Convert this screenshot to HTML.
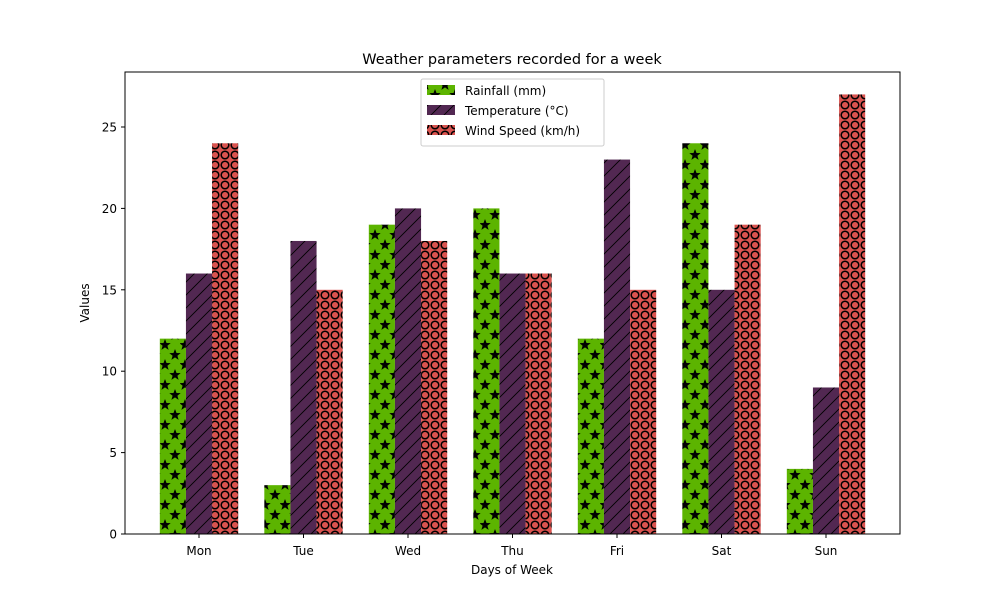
<!DOCTYPE html>
<html><head><meta charset="utf-8"><style>
body{margin:0;background:#fff;}
text{font-family:"DejaVu Sans","Liberation Sans",sans-serif;}
</style></head><body>
<svg id="chart" width="1000" height="600" viewBox="0 0 1000 600" xmlns="http://www.w3.org/2000/svg">
<defs>
<polygon id="star" points="0,-6 1.5,-2 5.7,-1.9 2.4,0.7 3.6,4.9 0,2.4 -3.6,4.9 -2.4,0.7 -5.7,-1.9 -1.5,-2" fill="#000"/>
<pattern id="pStar" patternUnits="userSpaceOnUse" width="20" height="20" x="160" y="0">
<rect width="20" height="20" fill="#5cb400"/>
<use href="#star" x="5" y="5"/>
<use href="#star" x="15" y="15"/>
<use href="#star" x="-5" y="15"/>
<use href="#star" x="25" y="15"/>
<use href="#star" x="15" y="-5"/>
<use href="#star" x="5" y="25"/>
</pattern>
<pattern id="pHatch" patternUnits="userSpaceOnUse" width="13" height="13">
<rect width="13" height="13" fill="#522852"/>
<path d="M0,13 L13,0 M-6.5,6.5 L6.5,-6.5 M6.5,19.5 L19.5,6.5" stroke="#000" stroke-width="0.9"/>
</pattern>
<pattern id="pCirc" patternUnits="userSpaceOnUse" width="10" height="10">
<rect width="10" height="10" fill="#d9534f"/>
<circle cx="5" cy="5" r="3.8" fill="none" stroke="#000" stroke-width="1.5"/>
</pattern>
</defs>
<text x="512" y="64" text-anchor="middle" font-size="14.5">Weather parameters recorded for a week</text>
<g id="bars"></g>
<g id="axes"></g>
<rect x="125" y="72" width="775" height="462" fill="none" stroke="#000" stroke-width="1"/>
<text x="512" y="574" text-anchor="middle" font-size="12">Days of Week</text>
<text transform="translate(89,303) rotate(-90)" text-anchor="middle" font-size="12">Values</text>
<g>
<rect x="421" y="79" width="183" height="67" fill="#fff" fill-opacity="0.8" stroke="#ccc" rx="2"/>
<g><rect x="427" y="85" width="28" height="10" fill="url(#pStar)"/><text x="465" y="95" font-size="12">Rainfall (mm)</text></g>
<g><rect x="427" y="105" width="28" height="10" fill="url(#pHatch)"/><text x="465" y="115" font-size="12">Temperature (°C)</text></g>
<g><rect x="427" y="125" width="28" height="10" fill="url(#pCirc)"/><text x="465" y="135" font-size="12">Wind Speed (km/h)</text></g>
</g>
</svg>
<script>
const days=["Mon","Tue","Wed","Thu","Fri","Sat","Sun"];
const rainfall=[12,3,19,20,12,24,4];
const temperature=[16,18,20,16,23,15,9];
const windSpeed=[24,15,18,16,15,19,27];
const yTicks=[0,5,10,15,20,25];
const NS="http://www.w3.org/2000/svg";
const x0=199,xu=104.5,yb=534,yu=16.28,bw=0.25;
function xs(v){return x0+v*xu;}
function ys(v){return yb-v*yu;}
const bars=document.getElementById('bars'),axes=document.getElementById('axes');
const series=[[rainfall,'url(#pStar)','rainfall'],[temperature,'url(#pHatch)','temperature'],[windSpeed,'url(#pCirc)','wind']];
series.forEach((s,si)=>{s[0].forEach((v,i)=>{
const r=document.createElementNS(NS,'rect');
const c=i+(si-1)*bw;
r.setAttribute('x',xs(c-bw/2));r.setAttribute('width',bw*xu);
r.setAttribute('y',ys(v));r.setAttribute('height',ys(0)-ys(v));
r.setAttribute('fill',s[1]);


bars.appendChild(r);});});
days.forEach((d,i)=>{
const l=document.createElementNS(NS,'line');
l.setAttribute('x1',xs(i));l.setAttribute('x2',xs(i));l.setAttribute('y1',534);l.setAttribute('y2',538);l.setAttribute('stroke','#000');
axes.appendChild(l);
const t=document.createElementNS(NS,'text');
t.setAttribute('x',xs(i));t.setAttribute('y',555);t.setAttribute('text-anchor','middle');t.setAttribute('font-size','12');
t.textContent=d;


axes.appendChild(t);});
yTicks.forEach(v=>{
const l=document.createElementNS(NS,'line');
l.setAttribute('x1',121);l.setAttribute('x2',125);l.setAttribute('y1',ys(v));l.setAttribute('y2',ys(v));l.setAttribute('stroke','#000');
axes.appendChild(l);
const t=document.createElementNS(NS,'text');
t.setAttribute('x',117);t.setAttribute('y',ys(v)+4.5);t.setAttribute('text-anchor','end');t.setAttribute('font-size','12');
t.textContent=v;


axes.appendChild(t);});
</script>
</body></html>
